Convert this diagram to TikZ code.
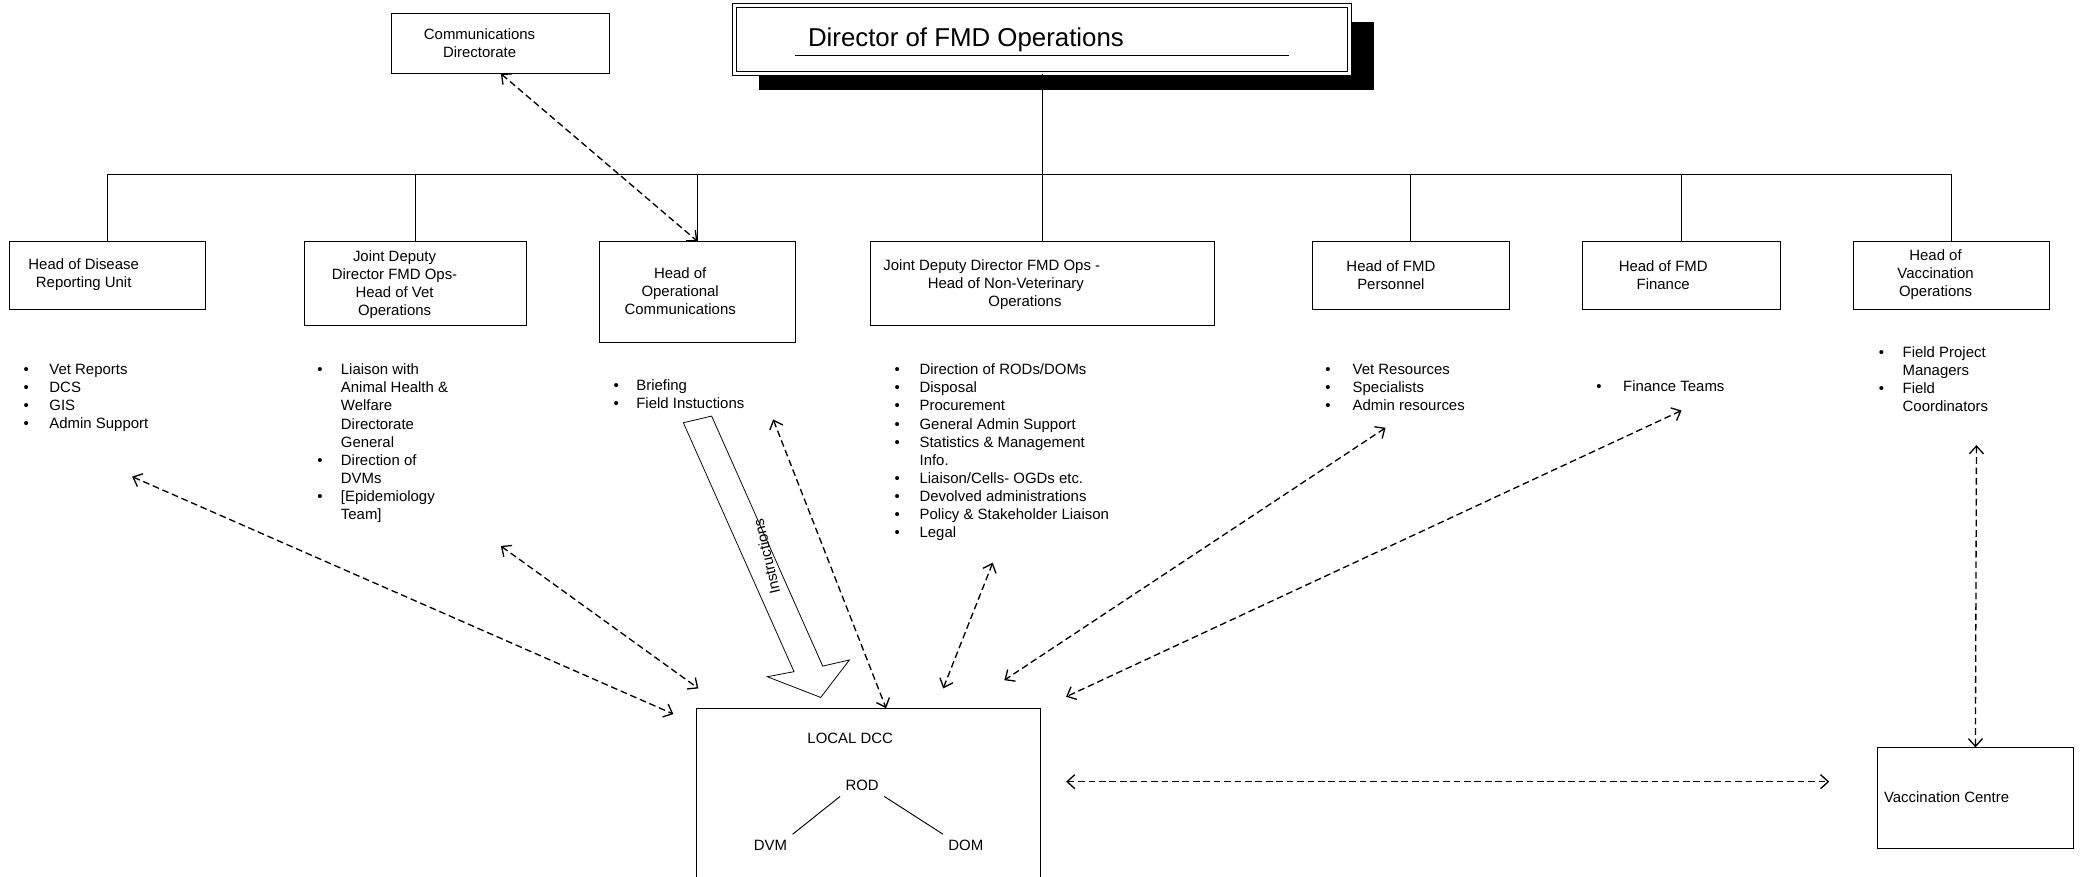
\documentclass[tikz,border=0pt]{standalone}
\usepackage{fontspec}
\setmainfont{Liberation Sans}
\usetikzlibrary{arrows.meta,fit}

\newlength{\bw}
\newcommand{\bi}[1]{\makebox[\bw][l]{\textbullet}#1}
\newcommand{\bc}[1]{\hspace*{\bw}#1}

\tikzset{
  box/.style={draw, line width=0.7pt, inner sep=0pt},
  txt/.style={font=\fontsize{9.6}{11.6}\selectfont, align=center, inner sep=0pt},
  lst/.style={font=\fontsize{9.6}{11.6}\selectfont, align=left, inner sep=0pt, anchor=north west},
  bw/.code={\setlength{\bw}{#1}},
  tree/.style={line width=0.6pt},
  link/.style={line width=0.85pt, dash pattern=on 4.3pt off 2.4pt,
    {Straight Barb[length=5pt,width=9pt]}-{Straight Barb[length=5pt,width=9pt]}},
}

\begin{document}
\begin{tikzpicture}[x=0.3mm, y=-0.3mm]
\path[use as bounding box, clip] (0,0) rectangle (1568,660);

% director
\fill (571,16.6) rectangle (1034,67.8);
\node[box, fill=white, double, double distance=2pt, line width=0.6pt, fit={(553,4) (1016,55)}] (dir) {};
\node[anchor=base west, inner sep=0pt, font=\fontsize{16.6}{20}\selectfont] (dirt) at (608,35) {Director of FMD Operations};
\draw[tree] (598.6,41.4) -- (970,41.4);

\node[box, fit={(295,10.3) (459,55)}] (comm) {};
\node[txt] (commt) at (361,32.3) {Communications\\Directorate};

% heads
\node[box, fit={(7,182) (155,233)}] (hdr) {};
\node[txt] (hdrt) at (63,207) {Head of Disease\\Reporting Unit};
\node[box, fit={(229,182) (396,245)}] (hvo) {};
\node[txt] (hvot) at (297,214) {Joint Deputy\\Director FMD Ops-\\Head of Vet\\Operations};
\node[box, fit={(451,182) (599,258)}] (hoc) {};
\node[txt] (hoct) at (512,219.5) {Head of\\Operational\\Communications};
\node[box, fit={(655,182) (914,245)}] (hnv) {};
\node[txt, align=left] (hnvt) at (664.8,214) [anchor=west] {Joint Deputy Director FMD Ops -\\\hspace*{10mm}Head of Non-Veterinary\\\hspace*{23.7mm}Operations};
\node[box, fit={(988,182) (1136,233)}] (hper) {};
\node[txt] (hpert) at (1047,207) {Head of FMD\\Personnel};
\node[box, fit={(1191,182) (1340,233)}] (hfin) {};
\node[txt] (hfint) at (1252,207) {Head of FMD\\Finance};
\node[box, fit={(1395,182) (1543,233)}] (hvac) {};
\node[txt] (hvact) at (1457,207) {Head of\\Vaccination\\Operations};

\coordinate (bus) at (784,131);
\draw[tree] (dir.south) -- (dir.south |- bus);
\draw[tree] (hdr.north |- bus) -- (hvac.north |- bus);
\draw[tree] (hdr.north) -- (hdr.north |- bus);
\draw[tree] (hvo.north) -- (hvo.north |- bus);
\draw[tree] (hoc.north) -- (hoc.north |- bus);
\draw[tree] (hnv.north) -- (hnv.north |- bus);
\draw[tree] (hper.north) -- (hper.north |- bus);
\draw[tree] (hfin.north) -- (hfin.north |- bus);
\draw[tree] (hvac.north) -- (hvac.north |- bus);

% lists
\node[lst, bw=5.85mm] (l1) at (17.5,273.8) {\bi{Vet Reports}\\\bi{DCS}\\\bi{GIS}\\\bi{Admin Support}};
\node[lst, bw=5.34mm] (l2) at (238.6,273.8) {\bi{Liaison with}\\\bc{Animal Health \&}\\\bc{Welfare}\\\bc{Directorate}\\\bc{General}\\\bi{Direction of}\\\bc{DVMs}\\\bi{[Epidemiology}\\\bc{Team]}};
\node[lst, bw=5.13mm] (l3) at (461.7,285.8) {\bi{Briefing}\\\bi{Field Instuctions}};
\node[lst, bw=5.64mm] (l4) at (673.2,273.8) {\bi{Direction of RODs/DOMs}\\\bi{Disposal}\\\bi{Procurement}\\\bi{General Admin Support}\\\bi{Statistics \& Management}\\\bc{Info.}\\\bi{Liaison/Cells- OGDs etc.}\\\bi{Devolved administrations}\\\bi{Policy \& Stakeholder Liaison}\\\bi{Legal}};
\node[lst, bw=6.18mm] (l5) at (997.4,273.8) {\bi{Vet Resources}\\\bi{Specialists}\\\bi{Admin resources}};
\node[lst, bw=6.06mm] (l6) at (1201.4,286) {\bi{Finance Teams}};
\node[lst, bw=5.4mm] (l7) at (1414,260.8) {\bi{Field Project}\\\bc{Managers}\\\bi{Field}\\\bc{Coordinators}};

% local DCC
\draw[line width=0.5pt, fill=white] (514.4,318.2) -- (535.7,313.2) -- (619.3,501.4) -- (639.4,496.8) -- (617.8,525) -- (577.6,509.4) -- (597.7,505.6) -- cycle;
\node[txt, rotate=103] (instr) at (577,419) {Instructions};

\node[box, fit={(524,533.5) (783,700)}] (dcc) {};
\node[txt] (dcct) at (640,556) {LOCAL DCC};
\node[txt, inner sep=3.3pt] (rod) at (649,591.4) {ROD};
\node[txt, inner sep=3.3pt] (dvm) at (580,636) {DVM};
\node[txt, inner sep=3.3pt] (dom) at (727,636) {DOM};
\draw[tree] (rod.south west) -- (dvm.north east);
\draw[tree] (rod.south east) -- (dom.north west);

\node[box, fit={(1413,563) (1561,639)}] (vac) {};
\node[txt, anchor=west] (vact) at (1418,600) {Vaccination Centre};

% links
\coordinate (rl) at (99.5,358.8);
\coordinate (rr) at (506.9,537.5);
\coordinate (vl) at (377,411);
\coordinate (vr) at (525.7,518.2);
\coordinate (bl) at (582,315.7);
\coordinate (nt) at (747.3,423.6);
\coordinate (nb) at (710,518.2);
\coordinate (pt) at (1043,322);
\coordinate (pb) at (756,512);
\coordinate (ft) at (1265.8,309);
\coordinate (fb) at (802.5,524.5);
\coordinate (hl) at (802.5,588.4);
\coordinate (hr) at (1377,588.4);
\coordinate (ct) at (1487.8,335);
\draw[link] (comm.south) -- (hoc.north);
\draw[link] (rl) -- (rr);
\draw[link] (vl) -- (vr);
\draw[link] (bl) -- ([xshift=4.05mm]dcc.north);
\draw[link] (nt) -- (nb);
\draw[link] (pt) -- (pb);
\draw[link] (ft) -- (fb);
\draw[link] (hl) -- (hr);
\draw[link] (ct) -- (vac.north);
\end{tikzpicture}
\end{document}
